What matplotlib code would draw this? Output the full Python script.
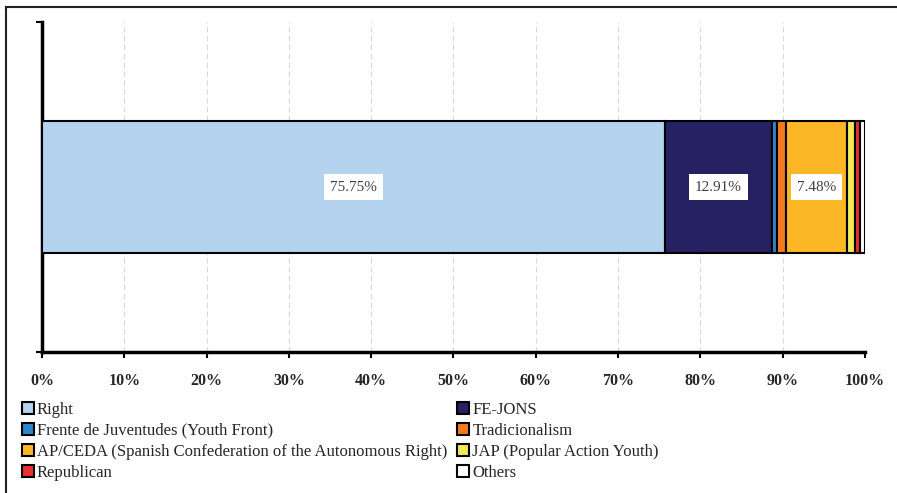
import matplotlib.pyplot as plt
from matplotlib.lines import Line2D
from matplotlib.patches import Patch

plt.rcParams['font.family'] = ['Liberation Serif', 'DejaVu Serif']

# share of each group (%)
groups = ['Right', 'FE-JONS', 'Frente de Juventudes (Youth Front)', 'Tradicionalism',
          'AP/CEDA (Spanish Confederation of the Autonomous Right)',
          'JAP (Popular Action Youth)', 'Republican', 'Others']
shares = [75.75, 12.91, 0.60, 1.10, 7.48, 1.00, 0.60, 0.56]
colors = ['#B3D3EE', '#262262', '#2C87C8', '#F47B20', '#FBB726', '#F2EA5A', '#E8302F', '#FFFFFF']
labelled = {'Right', 'FE-JONS', 'AP/CEDA (Spanish Confederation of the Autonomous Right)'}

fig = plt.figure(figsize=(8.97, 4.93), dpi=100)
ax = fig.add_axes([0.0468, 0.286, 0.9175, 0.669])

left = 0
handles = {}
for name, val, col in zip(groups, shares, colors):
    ax.barh(0, val, left=left, height=0.4, color=col, edgecolor='black', linewidth=1.5, zorder=3)
    if name in labelled:
        ax.text(left + val / 2, 0, f'{val:.2f}%', ha='center', va='center', fontsize=11,
                color='#404040', zorder=4,
                bbox=dict(boxstyle='square,pad=0.4', fc='white', ec='none'))
    handles[name] = Patch(facecolor=col, edgecolor='black', linewidth=1.5)
    left += val

ax.set_xlim(0, 100)
ax.set_ylim(-0.5, 0.5)
ax.set_xticks(range(0, 101, 10))
ax.set_xticklabels([f'{t}%' for t in range(0, 101, 10)], fontsize=11.5, fontweight='bold',
                   color='#262626')
ax.set_yticks([-0.5, 0.5])
ax.set_yticklabels([])
ax.tick_params(axis='both', direction='out', length=4, width=1.5, color='black')
ax.tick_params(axis='x', pad=11)
ax.grid(axis='x', color='#D9D9D9', linestyle=(0, (5, 3)), linewidth=0.8, zorder=0)
for s in ['top', 'right']:
    ax.spines[s].set_visible(False)
for s in ['left', 'bottom']:
    ax.spines[s].set_linewidth(2.5)

# legend is filled column by column: reorder so rows read left to right
order = [0, 2, 4, 6, 1, 3, 5, 7]
leg = fig.legend([handles[groups[i]] for i in order], [groups[i] for i in order],
                 loc='upper left', bbox_to_anchor=(0.017, 0.199), ncol=2, frameon=False,
                 fontsize=12, handlelength=0.7, handleheight=0.7, handletextpad=0.2,
                 columnspacing=0.6, labelspacing=0.3, borderaxespad=0)
for t in leg.get_texts():
    t.set_color('#262626')

# frame lines along the top and left of the figure
fig.add_artist(Line2D([5.5 / 897, 1], [1 - 6.5 / 493, 1 - 6.5 / 493], color='#222222', lw=1.5))
fig.add_artist(Line2D([5.5 / 897, 5.5 / 897], [0, 1 - 6.5 / 493], color='#222222', lw=1.5))

fig.savefig('out.png', dpi=100)
